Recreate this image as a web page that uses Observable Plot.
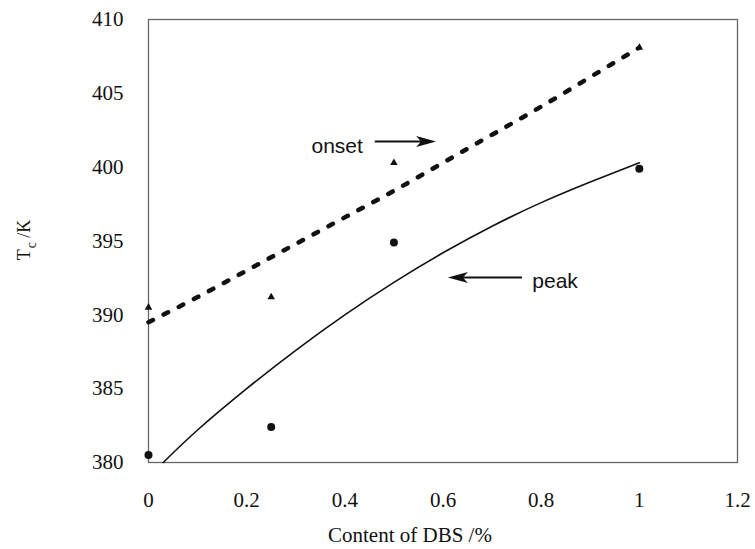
<!DOCTYPE html>
<html><head><meta charset="utf-8">
<script src="https://cdn.jsdelivr.net/npm/d3@7"></script>
<script src="https://cdn.jsdelivr.net/npm/@observablehq/plot@0.6"></script>
<style>body{margin:0;background:#fff}</style>
</head><body><div id="chart"></div>
<script>
// tick labels
const xTicks = [0, 0.2, 0.4, 0.6, 0.8, 1, 1.2];
const yTicks = [380, 385, 390, 395, 400, 405, 410];
// measured points
const sampleX = [0, 0.25, 0.5, 1];
const onsetPts = [390.5, 391.2, 400.3, 408.1];
const peakPts = [380.5, 382.4, 394.9, 399.9];
// fitted curves
const onsetCurveX = [0, 0.1, 0.2, 0.3, 0.4, 0.5, 0.6, 0.7, 0.8, 0.9, 1.0];
const onsetCurveY = [389.5, 391.2, 393.0, 394.8, 396.6, 398.4, 400.3, 402.2, 404.1, 406.1, 408.1];
const peakCurveX = [0.03, 0.1, 0.2, 0.3, 0.4, 0.5, 0.6, 0.7, 0.8, 0.9, 1.0];
const peakCurveY = [380.0, 382.2, 385.0, 387.6, 390.0, 392.2, 394.2, 396.0, 397.6, 399.0, 400.3];
// annotations
const noteLabels = ["onset", "peak"];
const noteX = [0.332, 0.782];
const noteY = [401.4, 392.3];
const arrowX1 = [0.462, 0.762];
const arrowX2 = [0.587, 0.611];
const arrowY = [401.7, 392.5];

const onsetPoints = sampleX.map((x, i) => ({x, y: onsetPts[i]}));
const peakPoints = sampleX.map((x, i) => ({x, y: peakPts[i]}));
const onsetCurve = onsetCurveX.map((x, i) => ({x, y: onsetCurveY[i]}));
const peakCurve = peakCurveX.map((x, i) => ({x, y: peakCurveY[i]}));
const notes = noteLabels.map((t, i) => ({t, x: noteX[i], y: noteY[i]}));
const arrows = noteLabels.map((t, i) => ({x1: arrowX1[i], x2: arrowX2[i], y: arrowY[i]}));

const serif = "'Liberation Serif', 'Times New Roman', serif";
const sans = "'Liberation Sans', Arial, sans-serif";

function arrowMark(data) {
  return (index, scales) => {
    const g = d3.create("svg:g");
    for (const d of data) {
      const x1 = scales.x(d.x1), y1 = scales.y(d.y), x2 = scales.x(d.x2), y2 = scales.y(d.y);
      const ang = Math.atan2(y2 - y1, x2 - x1);
      const L = 20, W = 5.5, N = 15;
      const bx = x2 - L * Math.cos(ang), by = y2 - L * Math.sin(ang);
      const nx = x2 - N * Math.cos(ang), ny = y2 - N * Math.sin(ang);
      g.append("line").attr("x1", x1).attr("y1", y1).attr("x2", nx).attr("y2", ny)
        .attr("stroke", "#111").attr("stroke-width", 2);
      g.append("path")
        .attr("d", `M${x2},${y2}L${bx - W * Math.sin(ang)},${by + W * Math.cos(ang)}L${nx},${ny}L${bx + W * Math.sin(ang)},${by - W * Math.cos(ang)}Z`)
        .attr("fill", "#111");
    }
    return g.node();
  };
}

const chart = Plot.plot({
  width: 755, height: 549,
  marginLeft: 148, marginRight: 18, marginTop: 19, marginBottom: 87,
  style: {fontFamily: serif, background: "#fff", color: "#111"},
  x: {domain: [0, 1.2]},
  y: {domain: [380, 410]},
  marks: [
    Plot.frame({stroke: "#666", strokeWidth: 1.3}),
    Plot.axisX({ticks: xTicks, tickSize: 0, tickPadding: 30, fontSize: 21, fontFamily: serif, label: null, tickFormat: d => String(d)}),
    Plot.axisY({ticks: yTicks, tickSize: 0, tickPadding: 25, fontSize: 21, fontFamily: serif, label: null}),
    Plot.line(onsetCurve, {x: "x", y: "y", curve: "natural", stroke: "#111", strokeWidth: 4.5, strokeDasharray: "5,12", strokeLinecap: "round"}),
    Plot.line(peakCurve, {x: "x", y: "y", curve: "natural", stroke: "#111", strokeWidth: 1.6}),
    Plot.dot(onsetPoints, {x: "x", y: "y", symbol: "triangle", r: 2.8, fill: "#111"}),
    Plot.dot(peakPoints, {x: "x", y: "y", r: 4, fill: "#111"}),
    Plot.text(notes, {x: "x", y: "y", text: "t", textAnchor: "start", fontFamily: sans, fontSize: 21, fill: "#111"}),
    arrowMark(arrows)
  ]
});

const svg = d3.select(chart);
svg.selectAll('g[aria-label="x-axis tick label"] text, g[aria-label="y-axis tick label"] text').style("font-family", serif);
svg.selectAll('g[aria-label="text"] text').style("font-family", sans);
// y label: T_c /K rotated
const yl = svg.append("text")
  .attr("transform", "translate(30,240) rotate(-90)")
  .attr("text-anchor", "middle")
  .style("font-family", serif)
  .attr("font-size", 18).attr("fill", "#111");
yl.append("tspan").text("T");
yl.append("tspan").attr("font-size", 14).attr("dy", 6).attr("dx", 1).text("c");
yl.append("tspan").attr("dy", -6).text("\u00a0/K");
// x label
svg.append("text")
  .attr("x", 410).attr("y", 542)
  .attr("text-anchor", "middle")
  .style("font-family", serif)
  .attr("font-size", 21).attr("fill", "#111")
  .text("Content of DBS /%");

document.getElementById("chart").appendChild(chart);
</script>
</body></html>
